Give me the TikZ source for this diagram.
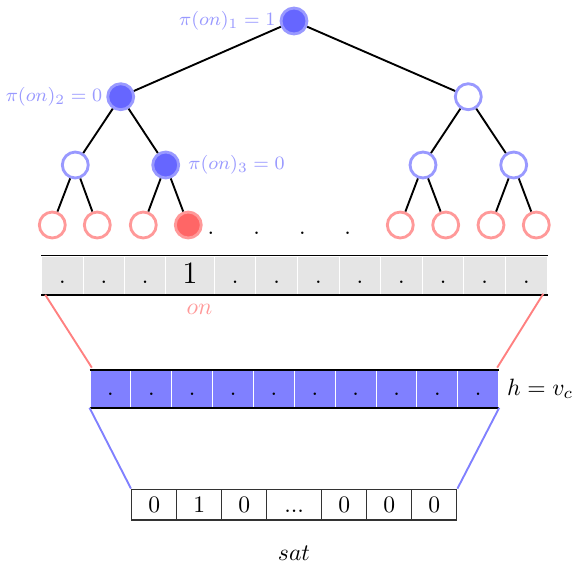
\documentclass[tikz,border=0pt]{standalone}
\usetikzlibrary{calc}
\begin{document}
\begin{tikzpicture}[x=0.4237pt,y=-0.4237pt,
  bnode/.style={circle,draw=blue!40,line width=1.2pt,minimum size=11pt,inner sep=0pt,fill=white},
  bfill/.style={bnode,fill=blue!60},
  rnode/.style={circle,draw=red!40,line width=1.2pt,minimum size=11pt,inner sep=0pt,fill=white},
  rfill/.style={rnode,fill=red!60},
  tedge/.style={line width=0.8pt},
  plab/.style={text=blue!40,font=\footnotesize,inner sep=1.6pt},
  dotn/.style={inner sep=0pt,anchor=base},
  gcell/.style={rectangle,fill=gray!20,draw=white,line width=0.4pt,minimum height=38.3*0.4237pt,inner sep=0pt},
  bcell/.style={rectangle,fill=blue!50,draw=white,line width=0.4pt,minimum width=40.87*0.4237pt,minimum height=36.6*0.4237pt,inner sep=0pt},
  scell/.style={rectangle,draw=black!80,line width=0.6pt,minimum width=45*0.4237pt,minimum height=30.7*0.4237pt,inner sep=0pt,text height=1.5ex,text depth=0pt},
  rim/.style={line width=0.8pt},
  redline/.style={red!50,line width=0.8pt},
  blueline/.style={blue!50,line width=0.8pt}
]
\useasboundingbox (0,0) rectangle (576,564);

% tree
\node[bfill] (r) at (294,21) {};
\node[bfill] (a) at (120.7,96.7) {};
\node[bnode] (b) at (468.3,96.7) {};
\node[bnode] (a1) at (75.3,165) {};
\node[bfill] (a2) at (165.7,165) {};
\node[bnode] (b1) at (423,165) {};
\node[bnode] (b2) at (513.7,165) {};
\node[rnode] (l1) at (52.3,225) {};
\node[rnode] (l2) at (97.3,225) {};
\node[rnode] (l3) at (143.3,225) {};
\node[rfill] (l4) at (188.3,225) {};
\node[rnode] (l5) at (400.3,225) {};
\node[rnode] (l6) at (445.7,225) {};
\node[rnode] (l7) at (491,225) {};
\node[rnode] (l8) at (536.3,225) {};
\draw[tedge] (r) -- (a);
\draw[tedge] (r) -- (b);
\draw[tedge] (a) -- (a1);
\draw[tedge] (a) -- (a2);
\draw[tedge] (b) -- (b1);
\draw[tedge] (b) -- (b2);
\draw[tedge] (a1) -- (l1);
\draw[tedge] (a1) -- (l2);
\draw[tedge] (a2) -- (l3);
\draw[tedge] (a2) -- (l4);
\draw[tedge] (b1) -- (l5);
\draw[tedge] (b1) -- (l6);
\draw[tedge] (b2) -- (l7);
\draw[tedge] (b2) -- (l8);
\node[plab,anchor=east] (p1) at (r.west) {$\pi(on)_1=1$};
\node[plab,anchor=east] (p2) at (a.west) {$\pi(on)_2=0$};
\node[plab,anchor=west] (p3) at ($(a2.east)+(4,0)$) {$\pi(on)_3=0$};
\foreach \x [count=\k] in {211,256.7,302.3,347.7}
  \node[inner sep=0pt] (d\k) at (\x,233.3) {.};

% gray array
\foreach \c/\w [count=\i] in {62.4/41.4,103.8/41.4,145.2/41.4,190.1/48.4,235.1/41.6,276.7/41.6,318.3/41.6,359.9/41.6,401.5/41.6,443.1/41.6,484.7/41.6,526.3/41.6}
  \node[gcell,minimum width=\w*0.4237pt] (g\i) at (\c,275.15) {};
\draw[rim] (g1.north west) -- (g12.north east);
\draw[rim] (g1.south west) -- (g12.south east);
\foreach \c [count=\i] in {62.4,103.8,145.2}
  \node[dotn] (gd\i) at (\c,283) {.};
\foreach \c [count=\i from 5] in {235.1,276.7,318.3,359.9,401.5,443.1,484.7,526.3}
  \node[dotn] (gd\i) at (\c,283) {.};
\node[dotn,font=\fontsize{13.2}{15}\selectfont] (one) at (190.1,283.3) {1};
\node[text=red!40,inner sep=0pt] (on) at (199.5,309) {$on$};

% blue array
\foreach \i in {1,...,10}
  \node[bcell] (c\i) at ({90+40.87*(\i-0.5)},389) {};
\draw[rim] (c1.north west) -- (c10.north east);
\draw[rim] (c1.south west) -- (c10.south east);
\foreach \i in {1,...,10}
  \node[dotn] (cd\i) at ({90+40.87*(\i-0.5)},395.6) {.};
\node[anchor=west,inner sep=0pt] (h) at (506.7,389) {$h=v_c$};

% connectors gray -> blue
\coordinate (gl) at ($(g1.south west)+(4,0)$);
\coordinate (gr) at ($(g12.south east)+(-4.3,-1)$);
\coordinate (cl) at ($(c1.north west)+(2.3,-2.6)$);
\coordinate (cr) at ($(c10.north east)+(-2,-2.6)$);
\draw[redline] (gl) -- (cl);
\draw[redline] (gr) -- (cr);

% sat array
\node[scell] (s1) at (154.2,504.65) {0};
\node[scell] (s2) at (199.2,504.65) {1};
\node[scell] (s3) at (244.2,504.65) {0};
\node[scell,minimum width=55*0.4237pt] (s4) at (294.2,504.65) {...};
\node[scell] (s5) at (344.2,504.65) {0};
\node[scell] (s6) at (389.2,504.65) {0};
\node[scell] (s7) at (434.2,504.65) {0};
\draw[blueline] (c1.south west) -- (s1.north west);
\draw[blueline] (c10.south east) -- (s7.north east);
\node (sat) at (294,553) {$sat$};
\end{tikzpicture}
\end{document}
